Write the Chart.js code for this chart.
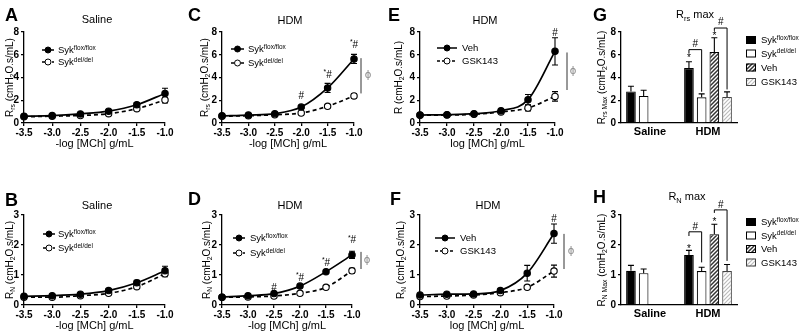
<!DOCTYPE html>
<html>
<head>
<meta charset="utf-8">
<script src="https://cdn.jsdelivr.net/npm/chart.js@4.4.1/dist/chart.umd.min.js"></script>
<style>
  html, body { margin: 0; padding: 0; background: #fff; }
  #wrap { position: relative; width: 800px; height: 334px; overflow: hidden; }
  #wrap canvas { position: absolute; left: 0; top: 0; }
</style>
</head>
<body>
<div id="wrap"></div>
<script>
// methacholine doses (x values for all curve panels)
const doses = [-3.5, -3.0, -2.5, -2.0, -1.5, -1.0];
const rrsTicks = [0, 2, 4, 6, 8];
const rnTicks = [0, 1, 2, 3];

// A - Rrs, saline
const rrsSalFlox = [0.6, 0.65, 0.8, 1.04, 1.6, 2.6];
const rrsSalFloxSem = [0.05, 0.05, 0.08, 0.1, 0.2, 0.45];
const rrsSalDel = [0.55, 0.6, 0.66, 0.82, 1.26, 2.02];
const rrsSalDelSem = [0.05, 0.05, 0.06, 0.08, 0.12, 0.25];

// C - Rrs, HDM
const rrsHdmFlox = [0.63, 0.7, 0.82, 1.4, 3.08, 5.63];
const rrsHdmFloxSem = [0.05, 0.05, 0.08, 0.12, 0.4, 0.4];
const rrsHdmDel = [0.6, 0.64, 0.72, 0.88, 1.47, 2.38];
const rrsHdmDelSem = [0.05, 0.05, 0.05, 0.08, 0.12, 0.2];

// E - Rrs, HDM, vehicle vs GSK143
const rrsVeh = [0.7, 0.73, 0.82, 1.08, 2.05, 6.3];
const rrsVehSem = [0.05, 0.05, 0.08, 0.15, 0.45, 1.2];
const rrsGsk = [0.68, 0.7, 0.76, 0.97, 1.32, 2.34];
const rrsGskSem = [0.05, 0.05, 0.05, 0.1, 0.25, 0.42];

// B - Rn, saline
const rnSalFlox = [0.29, 0.31, 0.36, 0.48, 0.74, 1.14];
const rnSalFloxSem = [0.03, 0.03, 0.04, 0.05, 0.08, 0.15];
const rnSalDel = [0.26, 0.26, 0.31, 0.39, 0.61, 1.04];
const rnSalDelSem = [0.03, 0.03, 0.03, 0.04, 0.05, 0.1];

// D - Rn, HDM
const rnHdmFlox = [0.26, 0.31, 0.38, 0.63, 1.11, 1.67];
const rnHdmFloxSem = [0.03, 0.03, 0.04, 0.05, 0.05, 0.12];
const rnHdmDel = [0.26, 0.27, 0.3, 0.39, 0.59, 1.14];
const rnHdmDelSem = [0.03, 0.03, 0.03, 0.04, 0.04, 0.08];

// F - Rn, HDM, vehicle vs GSK143
const rnVeh = [0.33, 0.36, 0.37, 0.48, 1.06, 2.38];
const rnVehSem = [0.03, 0.03, 0.04, 0.05, 0.26, 0.32];
const rnGsk = [0.28, 0.3, 0.33, 0.41, 0.59, 1.13];
const rnGskSem = [0.03, 0.03, 0.03, 0.04, 0.05, 0.2];

// G / H - maximal responses
const groups = ['Saline', 'HDM'];
const rrsMaxFlox = [2.78, 4.83];
const rrsMaxFloxSem = [0.45, 0.55];
const rrsMaxDel = [2.38, 2.26];
const rrsMaxDelSem = [0.5, 0.3];
const rrsMaxVeh = [null, 6.24];
const rrsMaxVehSem = [null, 1.25];
const rrsMaxGsk = [null, 2.29];
const rrsMaxGskSem = [null, 0.45];

const rnMaxFlox = [1.14, 1.67];
const rnMaxFloxSem = [0.18, 0.15];
const rnMaxDel = [1.06, 1.13];
const rnMaxDelSem = [0.14, 0.13];
const rnMaxVeh = [null, 2.36];
const rnMaxVehSem = [null, 0.33];
const rnMaxGsk = [null, 1.13];
const rnMaxGskSem = [null, 0.22];

const FONT = '"Liberation Sans", Arial, sans-serif';
Chart.defaults.font.family = FONT;
Chart.defaults.color = '#000';

const wrap = document.getElementById('wrap');

function makeCanvas() {
  const c = document.createElement('canvas');
  c.width = 800; c.height = 334;
  c.style.width = '800px'; c.style.height = '334px';
  wrap.appendChild(c);
  return c;
}

// draw text with sub/superscript parts: [[text, ''|'sub'|'sup'], ...]
function rich(ctx, x, y, parts, size, align, weight) {
  weight = weight || 'normal';
  const segs = parts.map(([t, m]) => {
    const s = m ? size * 0.68 : size;
    ctx.font = `${weight} ${s}px ${FONT}`;
    return { t, m, s, w: ctx.measureText(t).width };
  });
  const total = segs.reduce((a, g) => a + g.w, 0);
  let cx = align === 'center' ? x - total / 2 : align === 'right' ? x - total : x;
  ctx.textAlign = 'left';
  ctx.textBaseline = 'alphabetic';
  segs.forEach(g => {
    ctx.font = `${weight} ${g.s}px ${FONT}`;
    const dy = g.m === 'sub' ? size * 0.25 : g.m === 'sup' ? -size * 0.38 : 0;
    ctx.fillText(g.t, cx, y + dy);
    cx += g.w;
  });
}

function yTitle(ctx, x, yc, parts) {
  ctx.save();
  ctx.translate(x, yc);
  ctx.rotate(-Math.PI / 2);
  rich(ctx, 0, 3.5, parts, 10, 'center');
  ctx.restore();
}

function letter(ctx, t, x, y) {
  ctx.font = `bold 18px ${FONT}`;
  ctx.textAlign = 'left';
  ctx.textBaseline = 'alphabetic';
  ctx.fillText(t, x, y);
}

// move the chart area onto the wanted box
function fitArea(chart, pad, box) {
  for (let k = 0; k < 4; k++) {
    const a = chart.chartArea;
    pad.left += box.l - a.left;
    pad.right += a.right - box.r;
    pad.top += box.t - a.top;
    pad.bottom += a.bottom - box.b;
    chart.update('none');
  }
}

const semPlugin = {
  id: 'sem',
  beforeDatasetsDraw(chart) {
    if (chart.config.type === 'line') drawSem(chart, false);
  },
  afterDatasetsDraw(chart) {
    if (chart.config.type === 'bar') drawSem(chart, true);
  }
};

function drawSem(chart, upOnly) {
  const ctx = chart.ctx, ys = chart.scales.y;
  ctx.save();
  ctx.strokeStyle = '#000';
  ctx.lineWidth = 1.1;
  chart.data.datasets.forEach((d, di) => {
    chart.getDatasetMeta(di).data.forEach((el, i) => {
      const raw = d.data[i];
      const v = raw && typeof raw === 'object' ? raw.y : raw;
      const e = d.sem[i];
      if (v == null || !e) return;
      const x = el.x;
      const yTop = ys.getPixelForValue(v + e);
      const yBot = ys.getPixelForValue(upOnly ? v : v - e);
      ctx.beginPath();
      ctx.moveTo(x, yBot); ctx.lineTo(x, yTop);
      ctx.moveTo(x - 3, yTop); ctx.lineTo(x + 3, yTop);
      if (!upOnly) { ctx.moveTo(x - 3, yBot); ctx.lineTo(x + 3, yBot); }
      ctx.stroke();
    });
  });
  ctx.restore();
}

function yAxis(ticks) {
  return {
    min: ticks[0], max: ticks[ticks.length - 1],
    afterBuildTicks: s => { s.ticks = ticks.map(v => ({ value: v })); },
    ticks: { font: { size: 10, weight: 'bold' }, color: '#000', padding: 2 },
    grid: { drawOnChartArea: false, color: '#000', tickLength: 3, lineWidth: 1.3 },
    border: { color: '#000', width: 1.3 }
  };
}

function linePanel(s) {
  const cv = makeCanvas();
  const pad = { left: s.box.l - 22, right: 800 - s.box.r, top: s.box.t, bottom: 334 - s.box.b - 14 };
  const datasets = s.series.map((se, k) => ({
    data: se.y.map((v, i) => ({ x: doses[i], y: v })),
    sem: se.sem,
    borderColor: '#000',
    borderWidth: 1.7,
    borderDash: k ? [4, 3] : [],
    pointRadius: 3.2,
    pointBorderWidth: 1.1,
    pointBackgroundColor: k ? '#fff' : '#000',
    pointBorderColor: '#000',
    cubicInterpolationMode: 'monotone',
    clip: false
  }));
  const chart = new Chart(cv, {
    type: 'line',
    data: { datasets },
    options: {
      responsive: false,
      animation: false,
      events: [],
      layout: { padding: pad },
      plugins: { legend: { display: false }, tooltip: { enabled: false } },
      scales: {
        x: {
          type: 'linear', min: doses[0], max: doses[doses.length - 1],
          afterBuildTicks: sc => { sc.ticks = doses.map(v => ({ value: v })); },
          ticks: { font: { size: 10, weight: 'bold' }, color: '#000', padding: 1, maxRotation: 0, autoSkip: false,
                   callback: v => v.toFixed(1) },
          grid: { drawOnChartArea: false, color: '#000', tickLength: 3, lineWidth: 1.3 },
          border: { color: '#000', width: 1.3 }
        },
        y: yAxis(s.yticks)
      }
    },
    plugins: [semPlugin, { id: 'deco', afterDraw: c => lineDeco(c, s) }]
  });
  fitArea(chart, pad, s.box);
}

function lineDeco(chart, s) {
  const ctx = chart.ctx, xs = chart.scales.x, ys = chart.scales.y, a = chart.chartArea;
  ctx.save();
  ctx.fillStyle = '#000';
  letter(ctx, s.letter[0], s.letter[1], s.letter[2]);
  rich(ctx, s.title[1], s.title[2], [[s.title[0], '']], 11, 'center');
  rich(ctx, (a.left + a.right) / 2, a.bottom + 24, [[s.xTitle, '']], 11, 'center');
  yTitle(ctx, s.yx, (a.top + a.bottom) / 2, s.yTitle);

  const L = s.legend;
  L.rows.forEach((ry, k) => {
    ctx.strokeStyle = '#000';
    ctx.lineWidth = 1.5;
    ctx.setLineDash(k ? [3, 2] : []);
    ctx.beginPath(); ctx.moveTo(L.x0, ry); ctx.lineTo(L.x1, ry); ctx.stroke();
    ctx.setLineDash([]);
    ctx.beginPath(); ctx.arc((L.x0 + L.x1) / 2, ry, 3, 0, 2 * Math.PI);
    ctx.fillStyle = k ? '#fff' : '#000';
    ctx.fill(); ctx.lineWidth = 1; ctx.stroke();
    ctx.fillStyle = '#000';
    rich(ctx, L.tx, ry + 3.3, L.labels[k], 9.5, 'left');
  });

  (s.marks || []).forEach(m => {
    rich(ctx, xs.getPixelForValue(m.x), ys.getPixelForValue(m.v) + 3.5, m.parts, 10, 'center');
  });

  if (s.phi) {
    const x = a.right + s.phi.dx;
    ctx.strokeStyle = '#333';
    ctx.lineWidth = 1;
    ctx.beginPath();
    ctx.moveTo(x, ys.getPixelForValue(s.phi.v1));
    ctx.lineTo(x, ys.getPixelForValue(s.phi.v2));
    ctx.stroke();
    ctx.fillStyle = '#888';
    ctx.font = '10px "DejaVu Sans"';
    ctx.textAlign = 'center';
    ctx.textBaseline = 'middle';
    ctx.fillText('\u03d5', x + s.phi.gap, ys.getPixelForValue((s.phi.v1 + s.phi.v2) / 2));
  }
  ctx.restore();
}

function hatch(ctx, color, lw) {
  const c = document.createElement('canvas');
  c.width = 4; c.height = 4;
  const g = c.getContext('2d');
  g.fillStyle = '#fff'; g.fillRect(0, 0, 4, 4);
  g.strokeStyle = color; g.lineWidth = lw;
  g.beginPath();
  g.moveTo(0, 4); g.lineTo(4, 0);
  g.moveTo(-1, 1); g.lineTo(1, -1);
  g.moveTo(3, 5); g.lineTo(5, 3);
  g.stroke();
  return ctx.createPattern(c, 'repeat');
}

function barPanel(s) {
  const cv = makeCanvas();
  const g = cv.getContext('2d');
  const fills = ['#000', '#fff', hatch(g, '#333', 1.5), hatch(g, '#bbb', 1.2)];
  const borders = ['#000', '#000', '#000', '#444'];
  const pad = { left: s.box.l - 22, right: 800 - s.box.r, top: s.box.t, bottom: 334 - s.box.b - 14 };
  const datasets = s.series.map((se, k) => ({
    data: se.y,
    sem: se.sem,
    backgroundColor: fills[k],
    borderColor: borders[k],
    borderWidth: 1.1,
    categoryPercentage: 0.876,
    barPercentage: 0.76
  }));
  const chart = new Chart(cv, {
    type: 'bar',
    data: { labels: groups, datasets },
    options: {
      responsive: false,
      animation: false,
      events: [],
      layout: { padding: pad },
      plugins: { legend: { display: false }, tooltip: { enabled: false } },
      scales: {
        x: {
          ticks: { font: { size: 11, weight: 'bold' }, color: '#000', padding: 2 },
          grid: { display: true, drawOnChartArea: false, drawTicks: false, color: 'rgba(0,0,0,0)' },
          border: { color: '#000', width: 1.3 }
        },
        y: yAxis(s.yticks)
      }
    },
    plugins: [semPlugin, { id: 'deco', afterDraw: c => barDeco(c, s, fills, borders) }]
  });
  fitArea(chart, pad, s.box);
}

function barDeco(chart, s, fills, borders) {
  const ctx = chart.ctx, ys = chart.scales.y, a = chart.chartArea;
  ctx.save();
  ctx.fillStyle = '#000';
  letter(ctx, s.letter[0], s.letter[1], s.letter[2]);
  rich(ctx, s.title[1], s.title[2], s.title[0], 11, 'center');
  yTitle(ctx, s.yx, (a.top + a.bottom) / 2, s.yTitle);

  const L = s.legend;
  L.rows.forEach((ry, k) => {
    ctx.fillStyle = fills[k];
    ctx.fillRect(L.x, ry - 4, 10, 8);
    ctx.strokeStyle = borders[k];
    ctx.lineWidth = 1;
    ctx.strokeRect(L.x + 0.5, ry - 3.5, 9, 7);
    ctx.fillStyle = '#000';
    rich(ctx, L.x + 15, ry + 3.3, L.labels[k], 9.5, 'left');
  });

  const px = (d, c) => chart.getDatasetMeta(d).data[c].x;
  ctx.strokeStyle = '#000';
  ctx.lineWidth = 1;
  s.brackets.forEach(b => {
    const x1 = px(b.a, 1), x2 = px(b.b, 1);
    const yt = ys.getPixelForValue(b.top);
    ctx.beginPath();
    ctx.moveTo(x1, ys.getPixelForValue(b.la));
    ctx.lineTo(x1, yt); ctx.lineTo(x2, yt);
    ctx.lineTo(x2, ys.getPixelForValue(b.lb));
    ctx.stroke();
    ctx.fillStyle = '#000';
    rich(ctx, (x1 + x2) / 2, ys.getPixelForValue(b.hash) + 3.5, [['#', '']], 10, 'center');
  });
  s.stars.forEach(st => {
    rich(ctx, px(st.d, 1), ys.getPixelForValue(st.v) + 5, [['*', '']], 10, 'center');
  });
  ctx.restore();
}

const star = [['*', 'sup'], ['#', '']];
const hash = [['#', '']];
const sykFlox = [['Syk', ''], ['flox/flox', 'sup']];
const sykDel = [['Syk', ''], ['del/del', 'sup']];
const rrsLabel = [['R', ''], ['rs', 'sub'], [' (cmH', ''], ['2', 'sub'], ['O.s/mL)', '']];
const rnLabel = [['R', ''], ['N', 'sub'], [' (cmH', ''], ['2', 'sub'], ['O.s/mL)', '']];

// A
linePanel({
  box: { l: 24, r: 165, t: 32, b: 123 }, yticks: rrsTicks,
  series: [{ y: rrsSalFlox, sem: rrsSalFloxSem }, { y: rrsSalDel, sem: rrsSalDelSem }],
  letter: ['A', 5, 21], title: ['Saline', 97, 23], xTitle: '-log [MCh] g/mL', yx: 9, yTitle: rrsLabel,
  legend: { x0: 42, x1: 54, tx: 58, rows: [50, 62], labels: [sykFlox, sykDel] }
});
// C
linePanel({
  box: { l: 222, r: 354, t: 32, b: 123 }, yticks: rrsTicks,
  series: [{ y: rrsHdmFlox, sem: rrsHdmFloxSem }, { y: rrsHdmDel, sem: rrsHdmDelSem }],
  letter: ['C', 188, 21], title: ['HDM', 290, 24], xTitle: '-log [MCh] g/mL', yx: 204, yTitle: rrsLabel,
  legend: { x0: 231, x1: 244, tx: 248, rows: [49, 63], labels: [sykFlox, sykDel] },
  marks: [{ x: -2.0, v: 2.4, parts: hash }, { x: -1.5, v: 4.3, parts: star }, { x: -1.0, v: 6.9, parts: star }],
  phi: { dx: 7, gap: 7, v1: 5.7, v2: 2.6 }
});
// E
linePanel({
  box: { l: 420, r: 555, t: 32, b: 123 }, yticks: rrsTicks,
  series: [{ y: rrsVeh, sem: rrsVehSem }, { y: rrsGsk, sem: rrsGskSem }],
  letter: ['E', 388, 21], title: ['HDM', 485, 24], xTitle: 'log [MCh] g/mL', yx: 398,
  yTitle: [['R (cmH', ''], ['2', 'sub'], ['O.s/mL)', '']],
  legend: { x0: 437, x1: 457, tx: 462, rows: [48, 61], labels: [[['Veh', '']], [['GSK143', '']]] },
  marks: [{ x: -1.0, v: 8.0, parts: hash }],
  phi: { dx: 12, gap: 6, v1: 6.2, v2: 2.9 }
});
// B
linePanel({
  box: { l: 24, r: 165, t: 215, b: 305 }, yticks: rnTicks,
  series: [{ y: rnSalFlox, sem: rnSalFloxSem }, { y: rnSalDel, sem: rnSalDelSem }],
  letter: ['B', 5, 206], title: ['Saline', 97, 209], xTitle: '-log [MCh] g/mL', yx: 9, yTitle: rnLabel,
  legend: { x0: 43, x1: 55, tx: 58, rows: [234, 248], labels: [sykFlox, sykDel] }
});
// D
linePanel({
  box: { l: 222, r: 352, t: 215, b: 305 }, yticks: rnTicks,
  series: [{ y: rnHdmFlox, sem: rnHdmFloxSem }, { y: rnHdmDel, sem: rnHdmDelSem }],
  letter: ['D', 188, 205], title: ['HDM', 290, 209], xTitle: '-log [MCh] g/mL', yx: 206, yTitle: rnLabel,
  legend: { x0: 233, x1: 245, tx: 250, rows: [238, 253], labels: [sykFlox, sykDel] },
  marks: [{ x: -2.5, v: 0.6, parts: hash }, { x: -2.0, v: 0.93, parts: star },
          { x: -1.5, v: 1.43, parts: star }, { x: -1.0, v: 2.17, parts: star }],
  phi: { dx: 9, gap: 6, v1: 1.77, v2: 1.2 }
});
// F
linePanel({
  box: { l: 420, r: 554, t: 215, b: 305 }, yticks: rnTicks,
  series: [{ y: rnVeh, sem: rnVehSem }, { y: rnGsk, sem: rnGskSem }],
  letter: ['F', 390, 205], title: ['HDM', 488, 209], xTitle: 'log [MCh] g/mL', yx: 400, yTitle: rnLabel,
  legend: { x0: 435, x1: 455, tx: 460, rows: [238, 251], labels: [[['Veh', '']], [['GSK143', '']]] },
  marks: [{ x: -1.0, v: 2.87, parts: hash }],
  phi: { dx: 10, gap: 7, v1: 2.37, v2: 1.2 }
});
// G
barPanel({
  box: { l: 621, r: 737, t: 32, b: 123 }, yticks: rrsTicks,
  series: [{ y: rrsMaxFlox, sem: rrsMaxFloxSem }, { y: rrsMaxDel, sem: rrsMaxDelSem },
           { y: rrsMaxVeh, sem: rrsMaxVehSem }, { y: rrsMaxGsk, sem: rrsMaxGskSem }],
  letter: ['G', 593, 21], title: [[['R', ''], ['rs', 'sub'], [' max', '']], 695, 18], yx: 601,
  yTitle: [['R', ''], ['rs Max', 'sub'], [' (cmH', ''], ['2', 'sub'], ['O.s/mL)', '']],
  legend: { x: 746, rows: [40, 53.5, 67.5, 82], labels: [sykFlox, sykDel, [['Veh', '']], [['GSK143', '']]] },
  brackets: [{ a: 0, b: 1, top: 6.45, la: 6.15, lb: 2.75, hash: 7.0 },
             { a: 2, b: 3, top: 8.35, la: 8.1, lb: 2.95, hash: 8.95 }],
  stars: [{ d: 0, v: 5.85 }, { d: 2, v: 7.85 }]
});
// H
barPanel({
  box: { l: 621, r: 737, t: 215, b: 305 }, yticks: rnTicks,
  series: [{ y: rnMaxFlox, sem: rnMaxFloxSem }, { y: rnMaxDel, sem: rnMaxDelSem },
           { y: rnMaxVeh, sem: rnMaxVehSem }, { y: rnMaxGsk, sem: rnMaxGskSem }],
  letter: ['H', 593, 203], title: [[['R', ''], ['N', 'sub'], [' max', '']], 687, 200], yx: 601,
  yTitle: [['R', ''], ['N Max', 'sub'], [' (cmH', ''], ['2', 'sub'], ['O.s/mL)', '']],
  legend: { x: 746, rows: [222, 235.5, 249, 262.5], labels: [sykFlox, sykDel, [['Veh', '']], [['GSK143', '']]] },
  brackets: [{ a: 0, b: 1, top: 2.44, la: 2.3, lb: 1.42, hash: 2.62 },
             { a: 2, b: 3, top: 3.17, la: 3.07, lb: 1.47, hash: 3.36 }],
  stars: [{ d: 0, v: 1.95 }, { d: 2, v: 2.85 }]
});
</script>
</body>
</html>
